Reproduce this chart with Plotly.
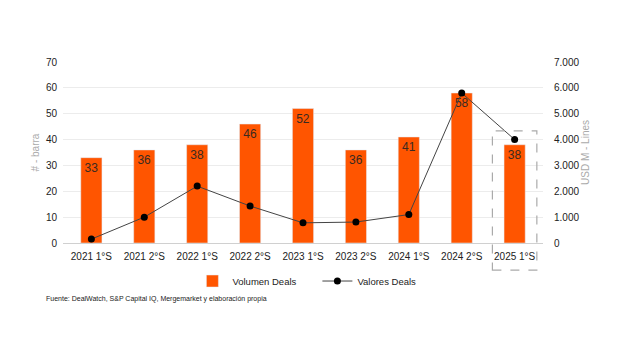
import plotly.graph_objects as go

categories = ["2021 1°S", "2021 2°S", "2022 1°S", "2022 2°S", "2023 1°S",
              "2023 2°S", "2024 1°S", "2024 2°S", "2025 1°S"]
volumen_deals = [33, 36, 38, 46, 52, 36, 41, 58, 38]
valores_deals = [150, 1000, 2200, 1430, 780, 810, 1100, 5800, 4000]

ORANGE = "#FF5500"
FONT = "Liberation Sans, Arial, sans-serif"

fig = go.Figure()
fig.add_trace(go.Bar(
    x=categories, y=volumen_deals, name="Volumen Deals",
    marker_color=ORANGE, width=0.4,
    text=volumen_deals, textposition="inside", insidetextanchor="end",
    textfont=dict(color="#3a2a20", size=12, family=FONT),
    yaxis="y",
))
fig.add_trace(go.Scatter(
    x=categories, y=valores_deals, name="Valores Deals",
    mode="lines+markers", line=dict(color="#444444", width=1),
    marker=dict(color="#000000", size=7),
    yaxis="y2",
))

# dashed highlight box around last category
fig.add_shape(type="rect", xref="x", yref="paper",
              x0=len(categories) - 1 - 0.42, x1=len(categories) - 1 + 0.42,
              y0=-0.15, y1=0.62,
              line=dict(color="#aaaaaa", width=1.2, dash="dash"))

fig.update_layout(
    width=630, height=342,
    margin=dict(l=63, r=87, t=62, b=99),
    paper_bgcolor="white", plot_bgcolor="white",
    font=dict(family=FONT, size=10, color="#222222"),
    separators=",.",
    showlegend=True,
    legend=dict(orientation="h", x=0.53, xanchor="center", y=-0.13, yanchor="top",
                font=dict(size=9.5, color="#222222"), traceorder="normal",
                itemwidth=30, entrywidth=80),
    xaxis=dict(showline=True, linecolor="#d0d0d0", ticks="", tickfont=dict(size=10),
               ticklabelstandoff=4),
    yaxis=dict(range=[0, 70], dtick=10, gridcolor="#ececec", zeroline=False,
               tickfont=dict(size=10), ticklabelstandoff=5,
               title=dict(text="# - barra", font=dict(size=10, color="#aaaaaa"), standoff=4)),
    yaxis2=dict(range=[0, 7000], dtick=1000, overlaying="y", side="right",
                showgrid=False, zeroline=False, tickformat=",d",
                tickfont=dict(size=10), ticklabelstandoff=10,
                title=dict(text="USD M - Lines", font=dict(size=10, color="#aaaaaa"), standoff=3)),
)

fig.add_annotation(text="Fuente: DealWatch, S&P Capital IQ, Mergemarket y elaboración propia",
                   xref="paper", yref="paper", x=-0.04, y=-0.31,
                   xanchor="left", yanchor="middle", showarrow=False,
                   font=dict(size=7, color="#222222"))

fig.write_html("out.html")
